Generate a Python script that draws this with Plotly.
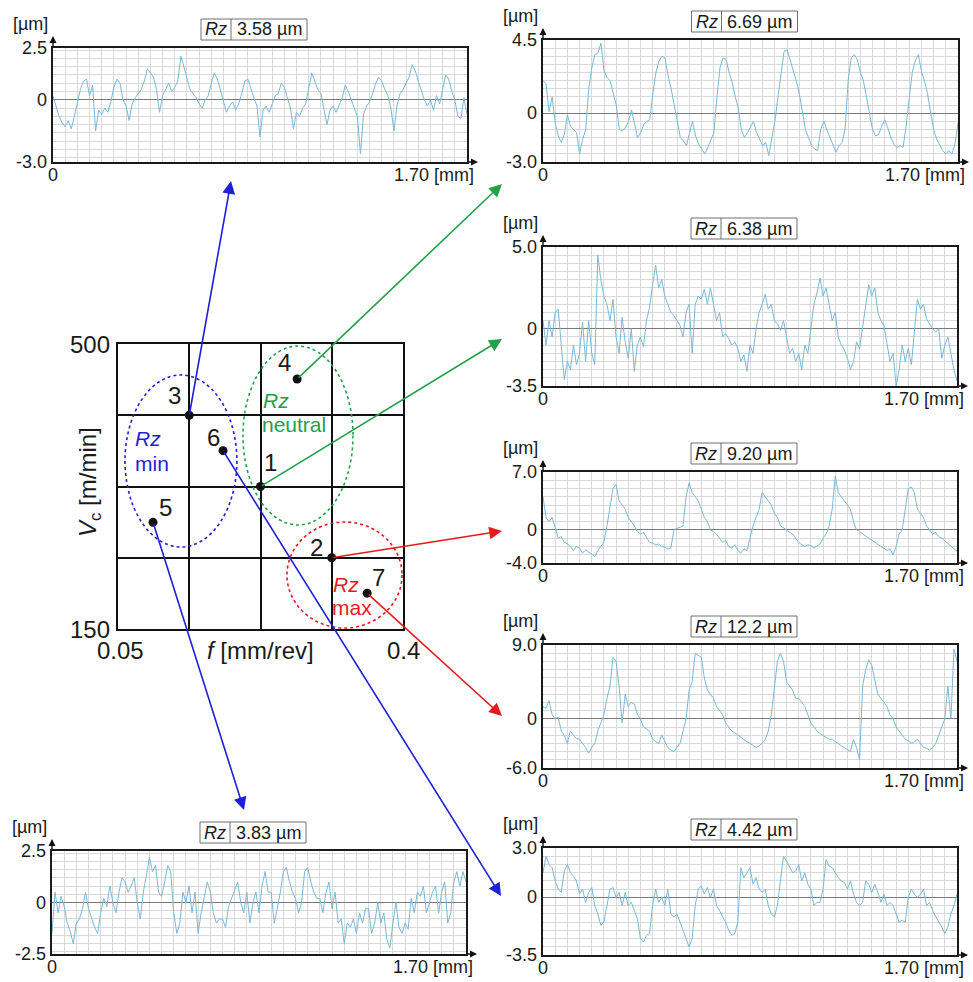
import plotly.graph_objects as go

W, H = 973, 982
L_MM = 1.70  # evaluation length of every profile [mm]

# ---------------- central design (f, Vc) ----------------
point_ids = ["1", "2", "3", "4", "5", "6", "7"]
feed_f = [0.225, 0.3125, 0.1375, 0.27, 0.093, 0.179, 0.356]
speed_vc = [325.0, 237.5, 412.5, 457.0, 281.0, 369.0, 194.0]
f_range = [0.05, 0.4]
vc_range = [150, 500]
f_tick_labels = ["0.05", "0.4"]
vc_tick_labels = ["150", "500"]

# ---------------- roughness profiles [um], equally spaced over 0..1.70 mm ----------------
profile_p3 = [0.2, -0.3, -0.8, -1.1, -1.3, -1.0, -1.4, -0.8, -0.1, 0.5, 0.9, 1.0,
              0.2, 0.7, -1.5, -0.5, -0.7, -0.4, -0.6, -0.1, 0.6, 1.0, 0.8, 0.0,
              -0.3, -1.0, -0.2, 0.1, 0.3, 0.5, 0.9, 1.5, 1.3, 1.1, 0.5, -0.6,
              0.2, 0.5, 0.8, 0.4, 0.6, 0.9, 2.1, 1.6, 1.0, 0.5, 0.3, 0.1,
              -0.2, -0.4, 0.0, 0.2, 0.8, 1.3, 1.0, 0.5, 0.0, -0.6, -0.3, -0.1,
              -0.5, -0.2, 0.3, 0.9, 1.0, 0.5, 0.1, -0.3, -1.8, -0.5, -0.3, -0.6,
              -0.2, 0.2, 0.3, 0.8, 0.6, 0.1, -0.4, -1.4, -0.6, -0.8, -0.4, -0.2,
              0.5, 1.3, 0.9, 0.5, 0.3, -0.4, -1.2, -0.5, -0.3, -0.6, -0.2, 0.1,
              0.7, 0.4, 0.0, -0.4, -0.8, -2.6, -0.7, -0.3, -0.1, 0.3, 0.8, 1.1,
              0.9, 0.5, 0.2, -0.4, -1.5, -0.3, 0.3, 0.5, 0.8, 1.1, 1.7, 1.4,
              0.9, 0.4, 0.0, -0.3, 0.0, -0.5, 0.2, -0.2, 0.6, 1.2, 1.0, 0.4,
              0.0, -0.8, -0.9, 0.1, -0.7]
profile_p4 = [2.0, 1.8, 0.1, 1.0, -0.6, -1.4, -1.8, -1.3, -0.1, -0.8, -1.0, -1.2,
              -2.5, -1.6, -1.0, 1.5, 2.8, 3.6, 3.7, 4.3, 2.6, 2.2, 2.0, 1.2,
              0.5, -1.0, -1.1, -0.9, -0.5, 0.2, -0.6, -1.5, -1.2, -0.7, -0.5, -0.4,
              1.2, 2.5, 3.2, 3.5, 3.4, 2.3, 1.5, 0.6, -0.5, -1.5, -1.7, -2.0,
              -1.2, -0.5, -1.4, -1.9, -2.2, -2.5, -2.1, -1.6, -1.2, 1.0, 2.8, 3.4,
              3.3, 2.5, 1.9, 1.0, 0.3, -1.0, -1.5, -1.2, -0.8, -0.5, -1.2, -1.6,
              -2.0, -1.8, -2.6, -1.5, -0.5, 1.0, 2.5, 3.8, 3.9, 3.3, 2.6, 2.0,
              1.2, 0.0, -1.0, -1.5, -2.0, -2.2, -2.3, -1.0, -0.5, -1.0, -1.5, -2.0,
              -2.4, -2.0, -1.8, -1.0, 2.0, 3.4, 3.6, 3.3, 2.5, 2.0, 1.0, 0.2,
              -1.0, -1.4, -1.3, -0.8, -0.4, -0.9, -1.5, -1.9, -2.1, -2.0, -2.1, -0.8,
              1.0, 2.5, 3.2, 3.6, 2.6, 2.0, 1.2, 0.2, -1.0, -1.6, -2.0, -2.3,
              -2.5, -2.3, -2.5, -1.9, -0.6]
profile_p1 = [0.5, -1.0, 0.5, -0.5, 1.0, 1.2, -1.0, -3.1, -2.0, -2.5, -1.0, -2.2,
              -1.5, 0.4, -2.0, 0.5, -1.5, -2.2, 4.5, 3.0, 2.0, 1.5, 0.5, 1.8,
              -0.5, -1.5, 0.7, -0.8, -1.8, 0.0, -2.6, -1.0, -0.5, -1.1, 0.5, 1.3,
              2.7, 3.9, 2.5, 3.0, 2.0, 1.5, 1.0, 0.8, 0.5, 0.2, -0.5, 1.0,
              1.5, -1.5, 1.5, 2.0, 1.8, 2.4, 1.5, 2.5, 1.5, 0.5, 1.0, -0.5,
              -0.3, -0.6, -1.0, -0.8, -1.2, -2.0, -1.6, -2.6, -1.0, -1.5, 0.0, 1.0,
              1.5, 2.1, 1.2, 1.5, 0.5, 0.3, -0.1, 0.5, -0.5, -1.5, -1.2, -2.0,
              -1.5, -2.5, -1.0, -1.5, 0.0, 1.5, 2.2, 3.1, 2.0, 2.5, 1.5, 0.5,
              1.0, -0.5, -1.0, -1.3, -1.8, -2.5, -2.0, -0.8, -1.2, 0.0, 1.5, 2.7,
              2.0, 2.5, 1.0, 0.5, 0.2, -0.8, -2.0, -1.5, -3.5, -2.5, -1.0, -2.0,
              -1.2, -2.2, 0.0, 1.8, 1.2, 1.5, 0.6, 0.3, 0.0, -0.2, 0.0, -1.8,
              -1.0, -0.5, -1.5, -2.5, -3.2]
profile_p2 = [4.0, 1.5, 1.0, 1.5, 0.3, -1.0, -0.8, -1.5, -1.7, -2.0, -2.5, -2.0,
              -2.2, -2.8, -2.4, -2.7, -2.9, -3.2, -2.5, -2.0, -1.5, 0.5, 2.5, 5.0,
              5.5, 3.5, 3.0, 2.5, 1.5, 1.0, 0.5, -0.2, -0.5, -0.3, -0.9, -1.5,
              -1.6, -1.8, -1.7, -2.0, -2.1, -2.3, -2.2, 0.0, 0.2, 0.3, 0.5, 4.0,
              5.7, 4.5, 4.0, 3.5, 2.5, 1.5, 1.0, 0.0, -0.2, -0.5, -1.0, -1.5,
              -1.3, -2.0, -2.2, -1.8, -2.5, -2.8, -2.3, -2.5, -1.0, 0.5, 1.5, 2.5,
              4.5, 4.0, 3.5, 3.0, 2.0, 1.5, 0.5, 0.3, 0.0, -0.3, -0.5, -1.0,
              -1.5, -1.8, -2.0, -1.8, -1.9, -2.2, -2.0, -1.7, -1.0, -0.5, 0.5, 2.5,
              6.5, 4.5, 4.0, 3.5, 3.0, 2.5, 1.0, 0.0, -0.2, -0.5, -0.8, -1.0,
              -1.2, -1.5, -1.8, -2.0, -2.2, -2.5, -2.3, -3.0, -2.0, -0.5, 0.0, 2.5,
              5.0, 5.2, 4.5, 2.5, 2.0, 1.5, 0.5, 0.0, -0.5, -0.3, -0.8, -1.0,
              -1.3, -1.6, -2.0, -2.3, -2.6]
profile_p7 = [1.5, 1.3, 2.2, 0.5, 0.0, 0.2, -1.5, -2.0, -3.0, -1.5, -2.0, -2.4,
              -2.5, -3.0, -3.5, -4.2, -3.5, -3.0, -1.5, -0.5, 0.5, 2.5, 4.0, 7.5,
              7.0, 4.0, -0.5, 3.0, 1.5, 2.0, 1.8, 0.5, 0.0, -1.0, -1.2, -1.5,
              -2.5, -2.8, -3.0, -2.0, -2.8, -3.5, -3.8, -4.0, -3.5, -3.0, -1.5, 0.0,
              3.5, 4.5, 8.0, 7.8, 7.5, 5.0, 3.5, 3.0, 2.5, 1.5, 1.0, 0.5,
              -0.5, -1.0, -1.5, -1.7, -2.0, -2.3, -2.5, -2.8, -3.0, -3.2, -3.5, -3.3,
              -3.0, -2.5, -1.5, 0.5, 4.0, 7.0, 8.0, 7.0, 4.5, 4.0, 3.5, 2.5,
              2.5, 2.0, 1.5, 0.5, -0.5, -1.0, -1.5, -1.8, -2.0, -2.3, -2.5, -2.5,
              -2.8, -3.0, -3.3, -3.5, -3.8, -4.0, -2.5, -3.5, -5.0, 4.0, 6.0, 7.2,
              6.5, 4.5, 3.0, 2.5, 2.0, 1.5, 0.5, 0.0, -1.0, -1.5, -2.0, -2.5,
              -2.7, -3.0, -2.8, -2.5, -3.0, -3.5, -3.6, -3.8, -3.5, -3.0, -2.0, -1.0,
              0.0, 4.0, 0.0, 8.5, 7.0]
profile_p6 = [1.5, 2.5, 2.0, 1.8, 1.0, 0.5, 0.3, 1.6, 2.0, 1.5, 1.3, 1.0,
              0.2, 0.5, -0.3, 0.3, 0.6, -0.5, -1.0, -1.7, -1.5, -0.5, 0.5, 0.6,
              0.0, 0.3, -0.5, 0.3, -0.5, -0.3, -0.8, -1.3, -2.5, -2.7, -2.3, -2.2,
              -0.5, 0.5, -0.3, 0.0, -0.5, 0.5, -1.0, -1.2, -1.0, -1.5, -2.0, -2.5,
              -3.0, -2.5, -0.5, 0.5, 0.7, 0.2, 0.6, 0.0, 0.5, -0.5, -0.8, -1.2,
              -1.5, -2.0, -2.3, -2.2, -1.5, 1.8, 1.2, 1.5, 1.8, 0.8, 1.2, 0.5,
              0.3, 0.5, -0.5, -1.0, -1.2, -0.5, 1.0, 2.5, 2.2, 1.8, 1.5, 1.6,
              2.0, 1.0, 1.5, 0.8, 0.5, -0.5, -0.3, -0.3, 0.5, 2.3, 1.9, 1.8,
              1.5, 1.2, 1.0, 0.9, 0.5, 1.0, 0.2, -0.3, -0.5, -0.3, 1.0, 0.8,
              0.3, 0.8, 0.3, -0.3, 0.2, -0.5, -0.3, -0.5, -1.0, -1.5, -1.4, -1.5,
              0.0, 0.5, 0.2, 0.0, 0.2, 0.5, -0.5, -0.3, -0.8, -1.2, -1.5, -1.8,
              -2.2, -1.8, -1.0, -0.5, 0.2]
profile_p5 = [-1.5, 0.5, -0.5, 0.3, -0.2, -1.0, -1.4, -2.0, -1.0, -0.8, -0.3, 0.5,
              -0.3, -0.8, -1.2, -1.5, -0.5, 0.2, -0.2, 0.8, 0.0, -0.5, 0.5, 1.2,
              1.0, 0.5, 0.8, 1.2, 0.0, -0.8, 0.5, 1.3, 2.2, 1.5, 1.8, 0.5,
              0.3, 1.0, 1.8, 1.5, -0.5, -1.5, -1.0, 0.5, 0.0, 0.8, -0.5, 0.5,
              -1.5, -0.5, 0.2, 1.0, 0.5, -0.5, -1.0, -0.8, -0.8, -1.2, -0.2, 0.2,
              0.5, 1.0, 0.0, -0.5, 0.5, -1.0, 0.0, 0.5, -0.5, 0.8, 1.5, 0.5,
              0.5, -1.0, -0.3, 0.5, 1.5, 1.7, 1.0, 0.5, 0.2, -0.5, 0.0, 1.5,
              1.7, 1.0, 0.5, 0.2, 0.2, -0.5, 0.5, 1.0, -0.3, 0.5, -1.0, -0.8,
              -2.0, -1.0, -1.2, -0.8, -1.5, -0.5, -1.0, -0.3, -0.3, -1.5, -1.0, 0.0,
              -1.0, -0.5, -1.8, -2.2, -1.0, 0.0, -1.2, -1.5, -1.0, -1.3, 0.2, -0.5,
              0.5, 0.3, 0.8, -0.5, 0.0, 0.5, 0.8, -0.5, 0.5, 1.0, -1.0, -0.5,
              1.0, 1.5, 0.8, 1.5, 1.0]

rz_labels = ["3.58 µm", "6.69 µm", "6.38 µm", "9.20 µm", "12.2 µm", "4.42 µm", "3.83 µm"]
y_ranges = [(-3.0, 2.5), (-3.0, 4.5), (-3.5, 5.0), (-4.0, 7.0), (-6.0, 9.0), (-3.5, 3.0), (-2.5, 2.5)]
y_tick_labels = [["-3.0", "0", "2.5"], ["-3.0", "0", "4.5"], ["-3.5", "0", "5.0"], ["-4.0", "0", "7.0"],
                 ["-6.0", "0", "9.0"], ["-3.5", "0", "3.0"], ["-2.5", "0", "2.5"]]
x_tick_labels = ["0", "1.70 [mm]"]
profiles = [profile_p3, profile_p4, profile_p1, profile_p2, profile_p7, profile_p6, profile_p5]
profile_point = ["3", "4", "1", "2", "7", "6", "5"]

# ---------------- layout (pixel boxes: left, top, right, bottom) ----------------
panel_boxes = [(53, 48, 467, 162), (543, 40, 958, 162), (543, 247, 957, 386), (543, 472, 957, 563),
               (543, 645, 957, 768), (543, 848, 957, 955), (52, 851, 466, 954)]
grid_dy = [0.4, 0.5, 0.5, 1.0, 1.0, 0.5, 0.4]
central_box = (118, 344, 403, 629)

BLUE, GREEN, RED = "#1f1fd8", "#24a04c", "#e31b1f"
point_color = {"3": BLUE, "5": BLUE, "6": BLUE, "4": GREEN, "1": GREEN, "2": RED, "7": RED}
arrow_head_px = {"3": (231, 181), "4": (502, 184), "1": (502, 339), "2": (502, 531),
                 "7": (502, 716), "6": (501, 896), "5": (244, 810)}
label_offset_px = {"1": (10, -24), "2": (-15, -10), "3": (-15, -20), "4": (-13, -17),
                   "5": (12, -15), "6": (-10, -13), "7": (11, -16)}

FONT = "Arial, 'Liberation Sans', sans-serif"
TXT = "#1a1a1a"


def px_x(px):
    return px / W


def px_y(py):
    return 1 - py / H


def ax_id(k):
    return "" if k == 1 else str(k)


fig = go.Figure()
annotations = []
shapes = []
layout_axes = {}

for i, (vals, box, yr, dy) in enumerate(zip(profiles, panel_boxes, y_ranges, grid_dy)):
    s = ax_id(i + 1)
    x0, y0, x1, y1 = box
    n = len(vals)
    xs = [L_MM * j / (n - 1) for j in range(n)]
    fig.add_trace(go.Scatter(x=xs, y=vals, mode="lines", xaxis=f"x{s}", yaxis=f"y{s}",
                             line=dict(color="#7ab8d8", width=1), hoverinfo="skip"))
    layout_axes[f"xaxis{s}"] = dict(domain=[px_x(x0), px_x(x1)], range=[0, L_MM], anchor=f"y{s}",
                                    tick0=0, dtick=0.05, showgrid=True, gridcolor="#d9d9d9", gridwidth=1,
                                    showticklabels=False, ticks="", zeroline=False,
                                    showline=True, mirror=True, linecolor="#1a1a1a", linewidth=1.6)
    layout_axes[f"yaxis{s}"] = dict(domain=[px_y(y1), px_y(y0)], range=list(yr), anchor=f"x{s}",
                                    tick0=0, dtick=dy, showgrid=True, gridcolor="#d9d9d9", gridwidth=1,
                                    showticklabels=False, ticks="", zeroline=True,
                                    zerolinecolor="#7a7a7a", zerolinewidth=1,
                                    showline=True, mirror=True, linecolor="#1a1a1a", linewidth=1.6)
    # y tick labels
    for val, txt in zip([yr[0], 0, yr[1]], y_tick_labels[i]):
        annotations.append(dict(x=px_x(x0 - 4), xref="paper", y=val, yref=f"y{s}", text=txt,
                                showarrow=False, xanchor="right", yanchor="middle",
                                font=dict(size=18, color=TXT, family=FONT)))
    # x labels
    annotations.append(dict(x=px_x(x0), y=px_y(y1 + 13), xref="paper", yref="paper", text=x_tick_labels[0],
                            showarrow=False, xanchor="center", yanchor="middle",
                            font=dict(size=18, color=TXT, family=FONT)))
    annotations.append(dict(x=px_x(x1 + 9), y=px_y(y1 + 13), xref="paper", yref="paper", text=x_tick_labels[1],
                            showarrow=False, xanchor="right", yanchor="middle",
                            font=dict(size=18, color=TXT, family=FONT)))
    # unit label
    annotations.append(dict(x=px_x(x0 - 3), y=px_y(y0 - 24), xref="paper", yref="paper", text="[µm]",
                            showarrow=False, xanchor="right", yanchor="middle",
                            font=dict(size=18, color=TXT, family=FONT)))
    # axis arrows
    annotations.append(dict(x=px_x(x0), y=px_y(y0 - 12), xref="paper", yref="paper", text="",
                            showarrow=True, ax=0, ay=12, arrowhead=2, arrowsize=1, arrowwidth=1.4,
                            arrowcolor="#111111", standoff=0, startstandoff=0))
    annotations.append(dict(x=px_x(x1 + 11), y=px_y(y1), xref="paper", yref="paper", text="",
                            showarrow=True, ax=-11, ay=0, arrowhead=2, arrowsize=1, arrowwidth=1.4,
                            arrowcolor="#111111", standoff=0, startstandoff=0))
    # Rz box
    cx = (x0 + x1) / 2 - 6
    bx0, bx1 = cx - 53, cx + 53
    by1 = y0 - 8
    by0 = by1 - 21
    divx = bx0 + 30
    shapes.append(dict(type="rect", xref="paper", yref="paper", x0=px_x(bx0), x1=px_x(bx1),
                       y0=px_y(by1), y1=px_y(by0), line=dict(color="#707070", width=1),
                       fillcolor="white", layer="above"))
    shapes.append(dict(type="line", xref="paper", yref="paper", x0=px_x(divx), x1=px_x(divx),
                       y0=px_y(by1), y1=px_y(by0), line=dict(color="#707070", width=1), layer="above"))
    annotations.append(dict(x=px_x((bx0 + divx) / 2), y=px_y((by0 + by1) / 2), xref="paper", yref="paper",
                            text="<i>Rz</i>", showarrow=False, xanchor="center", yanchor="middle",
                            font=dict(size=18, color=TXT, family=FONT)))
    annotations.append(dict(x=px_x((divx + bx1) / 2), y=px_y((by0 + by1) / 2), xref="paper", yref="paper",
                            text=rz_labels[i], showarrow=False, xanchor="center", yanchor="middle",
                            font=dict(size=18, color=TXT, family=FONT)))

# ---------------- central design chart ----------------
cx0, cy0, cx1, cy1 = central_box
sc = ax_id(len(profiles) + 1)
layout_axes[f"xaxis{sc}"] = dict(domain=[px_x(cx0), px_x(cx1)], range=f_range, anchor=f"y{sc}",
                                 tick0=f_range[0], dtick=(f_range[1] - f_range[0]) / 4,
                                 showgrid=True, gridcolor="#111111", gridwidth=1.5,
                                 showticklabels=False, ticks="", zeroline=False,
                                 showline=True, mirror=True, linecolor="#111111", linewidth=1.8)
layout_axes[f"yaxis{sc}"] = dict(domain=[px_y(cy1), px_y(cy0)], range=vc_range, anchor=f"x{sc}",
                                 tick0=vc_range[0], dtick=(vc_range[1] - vc_range[0]) / 4,
                                 showgrid=True, gridcolor="#111111", gridwidth=1.5,
                                 showticklabels=False, ticks="", zeroline=False,
                                 showline=True, mirror=True, linecolor="#111111", linewidth=1.8)


def data_to_px(f, vc):
    px = cx0 + (f - f_range[0]) / (f_range[1] - f_range[0]) * (cx1 - cx0)
    py = cy1 - (vc - vc_range[0]) / (vc_range[1] - vc_range[0]) * (cy1 - cy0)
    return px, py


# ellipses (data coordinates of bounding boxes)
ellipses = [
    dict(f=(0.0586, 0.196), vc=(250.7, 461.9), color=BLUE),
    dict(f=(0.2035, 0.3386), vc=(277.7, 497.5), color=GREEN),
    dict(f=(0.2575, 0.3988), vc=(151.2, 281.4), color=RED),
]
for e in ellipses:
    shapes.append(dict(type="circle", xref=f"x{sc}", yref=f"y{sc}", x0=e["f"][0], x1=e["f"][1],
                       y0=e["vc"][0], y1=e["vc"][1], line=dict(color=e["color"], width=1.6, dash="dot"),
                       layer="above"))

# zone labels
zone_text = [("<i>Rz</i>", 148, 438, BLUE), ("min", 152, 464, BLUE),
             ("<i>Rz</i>", 276, 400, GREEN), ("neutral", 294, 424, GREEN),
             ("<i>Rz</i>", 346, 584, RED), ("max", 352, 607, RED)]
for t, x, y, c in zone_text:
    annotations.append(dict(x=px_x(x), y=px_y(y), xref="paper", yref="paper", text=t, showarrow=False,
                            xanchor="center", yanchor="middle", font=dict(size=21, color=c, family=FONT)))

# arrows from design points to profiles
for pid, f, vc in zip(point_ids, feed_f, speed_vc):
    tx, ty = data_to_px(f, vc)
    hx, hy = arrow_head_px[pid]
    annotations.append(dict(x=px_x(hx), y=px_y(hy), xref="paper", yref="paper", text="",
                            showarrow=True, ax=tx - hx, ay=ty - hy, axref="pixel", ayref="pixel",
                            arrowhead=2, arrowsize=1.6, arrowwidth=1.6, arrowcolor=point_color[pid],
                            standoff=0, startstandoff=0))

fig.add_trace(go.Scatter(x=feed_f, y=speed_vc, mode="markers", xaxis=f"x{sc}", yaxis=f"y{sc}",
                         marker=dict(color="#111111", size=9), cliponaxis=False, hoverinfo="skip"))
for pid, f, vc in zip(point_ids, feed_f, speed_vc):
    dx, dy = label_offset_px[pid]
    annotations.append(dict(x=f, y=vc, xref=f"x{sc}", yref=f"y{sc}", text=pid, showarrow=False,
                            xanchor="center", yanchor="middle", xshift=dx, yshift=-dy,
                            font=dict(size=24, color=TXT, family=FONT)))

# central axis labels
annotations += [
    dict(x=px_x(cx0 - 6), y=vc_range[1], xref="paper", yref=f"y{sc}", text=vc_tick_labels[1],
         showarrow=False, xanchor="right", yanchor="middle", font=dict(size=24, color=TXT, family=FONT)),
    dict(x=px_x(cx0 - 6), y=vc_range[0], xref="paper", yref=f"y{sc}", text=vc_tick_labels[0],
         showarrow=False, xanchor="right", yanchor="middle", font=dict(size=24, color=TXT, family=FONT)),
    dict(x=f_range[0], y=px_y(cy1 + 21), xref=f"x{sc}", yref="paper", text=f_tick_labels[0], xshift=2,
         showarrow=False, xanchor="center", yanchor="middle", font=dict(size=24, color=TXT, family=FONT)),
    dict(x=f_range[1], y=px_y(cy1 + 21), xref=f"x{sc}", yref="paper", text=f_tick_labels[1],
         showarrow=False, xanchor="center", yanchor="middle", font=dict(size=24, color=TXT, family=FONT)),
    dict(x=px_x(260), y=px_y(cy1 + 21), xref="paper", yref="paper", text="<i>f</i> [mm/rev]",
         showarrow=False, xanchor="center", yanchor="middle", font=dict(size=24, color=TXT, family=FONT)),
    dict(x=px_x(89), y=px_y(482), xref="paper", yref="paper", text="<i>V</i><sub>c</sub> [m/min]",
         textangle=-90, showarrow=False, xanchor="center", yanchor="middle",
         font=dict(size=24, color=TXT, family=FONT)),
]

fig.update_layout(width=W, height=H, margin=dict(l=0, r=0, t=0, b=0), showlegend=False,
                  paper_bgcolor="white", plot_bgcolor="white",
                  annotations=annotations, shapes=shapes, **layout_axes)

# remove the browser's default 8px body margin so the figure fills the window exactly
fig.write_html("out.html", config={"displayModeBar": False},
               post_script="document.body.style.margin='0';document.body.style.overflow='hidden';")
